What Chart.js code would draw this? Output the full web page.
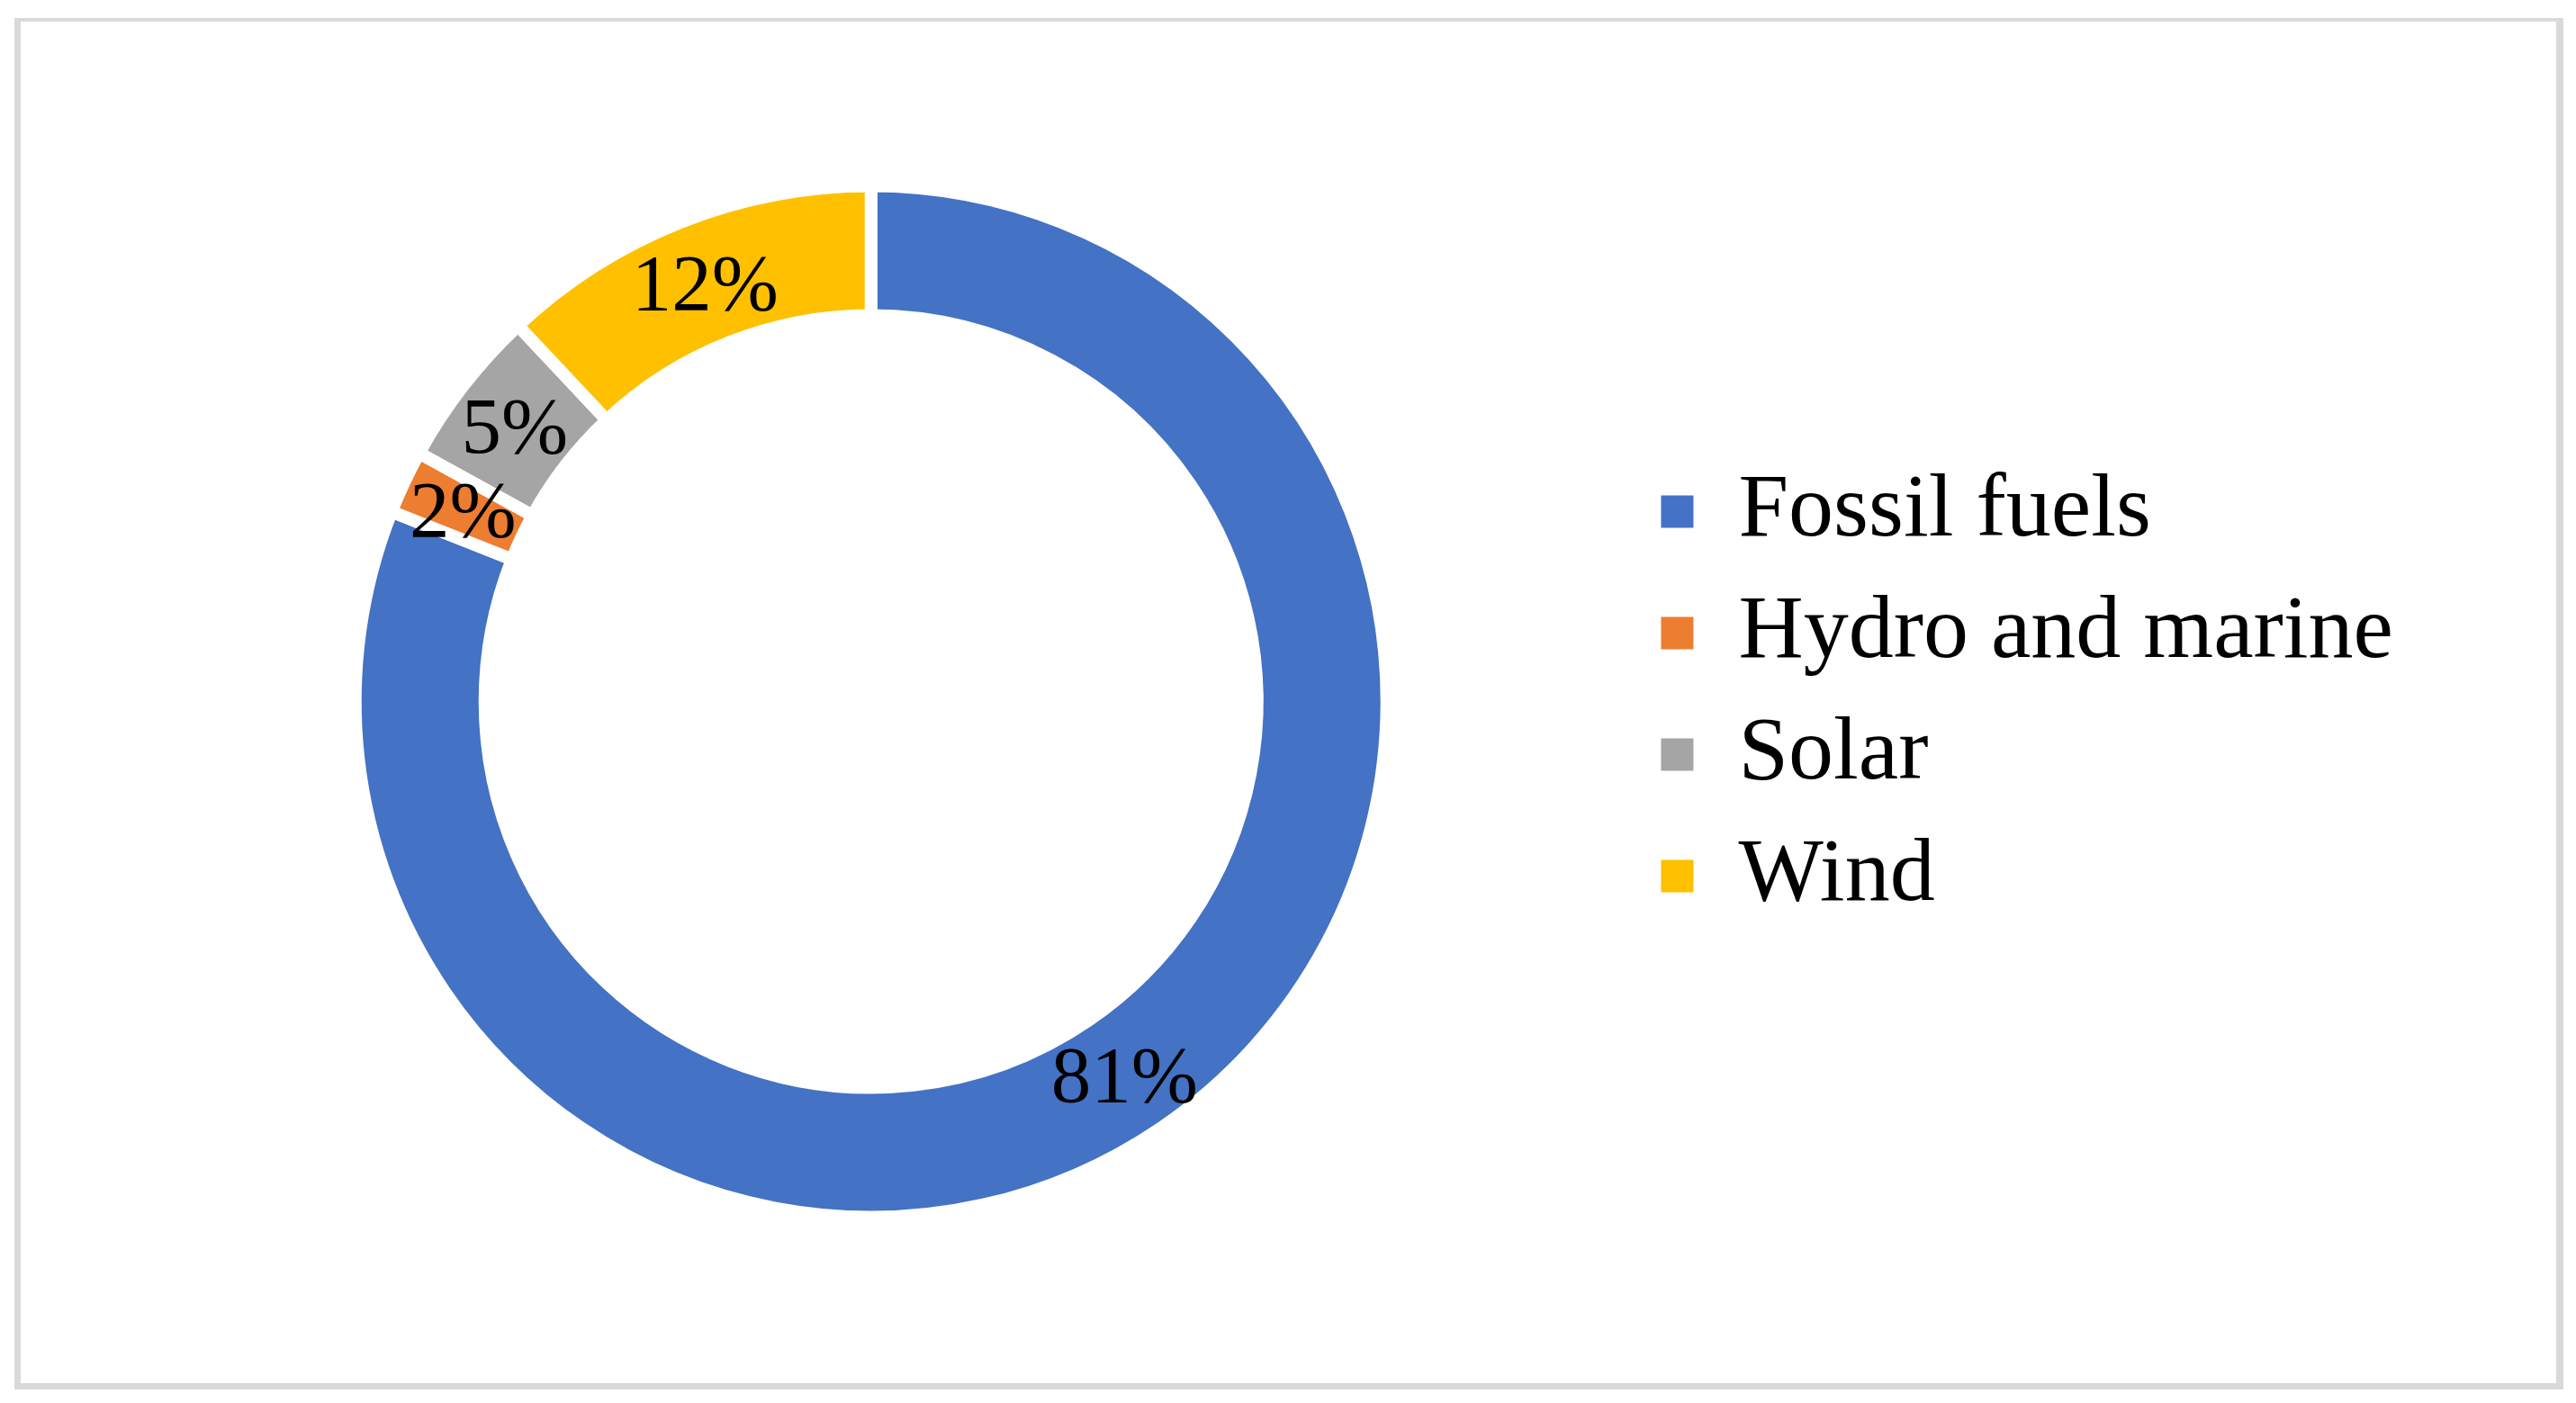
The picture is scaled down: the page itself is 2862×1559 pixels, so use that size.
<!DOCTYPE html>
<html>
<head>
<meta charset="utf-8">
<script src="https://cdn.jsdelivr.net/npm/chart.js@4.4.1/dist/chart.umd.min.js"></script>
<style>
  html, body { margin: 0; padding: 0; background: #fff; }
  #frame {
    position: absolute; left: 16px; top: 20px;
    width: 2832px; height: 1524px; box-sizing: border-box;
    border-style: solid; border-color: #d9d9d9;
    border-width: 4px 8px 7px 7px;
  }
  #wrap { position: absolute; left: 0; top: 0; width: 2862px; height: 1559px; }
</style>
</head>
<body>
<div id="frame"></div>
<div id="wrap"><canvas id="energyChart"></canvas></div>
<script>
const categories = ["Fossil fuels", "Hydro and marine", "Solar", "Wind"];
const shares = [81, 2, 5, 12]; // percent
const sliceColors = ["#4472C4", "#ED7D31", "#A5A5A5", "#FFC000"];

const serif = "'Liberation Serif', 'Times New Roman', serif";

// percent labels in the middle of each ring segment
const sliceLabels = {
  id: "sliceLabels",
  afterDatasetsDraw(chart) {
    const ctx = chart.ctx;
    const meta = chart.getDatasetMeta(0);
    const size = 89;
    ctx.save();
    ctx.font = size + "px " + serif;
    ctx.fillStyle = "#000";
    ctx.textAlign = "center";
    ctx.textBaseline = "alphabetic";
    meta.data.forEach((arc, i) => {
      const p = arc.getCenterPoint();
      ctx.fillText(shares[i] + "%", p.x, p.y + size * 0.34);
    });
    ctx.restore();
  }
};

// legend sits a little higher than the ring centre in the original
const legendNudge = {
  id: "legendNudge",
  afterLayout(chart) {
    chart.legend.top -= 17;
  }
};

const defaultLabels = Chart.controllers.doughnut.overrides.plugins.legend.labels.generateLabels;

new Chart("energyChart", {
  type: "doughnut",
  data: {
    labels: categories,
    datasets: [
      {
        data: shares,
        backgroundColor: sliceColors,
        borderColor: "#ffffff",
        borderWidth: 14,
      },
    ],
  },
  options: {
    responsive: true,
    maintainAspectRatio: false,
    animation: false,
    radius: 573,
    cutout: "74.87%",
    layout: { padding: { left: 125, right: 193, top: 0, bottom: 0 } },
    plugins: {
      tooltip: { enabled: false },
      legend: {
        position: "right",
        labels: {
          boxWidth: 36,
          boxHeight: 36,
          padding: 35,
          color: "#000",
          font: { family: serif, size: 100 },
          generateLabels: (chart) =>
            defaultLabels(chart).map((item) => ({ ...item, lineWidth: 0 })),
        },
      },
    },
  },
  plugins: [sliceLabels, legendNudge],
});
</script>
</body>
</html>
